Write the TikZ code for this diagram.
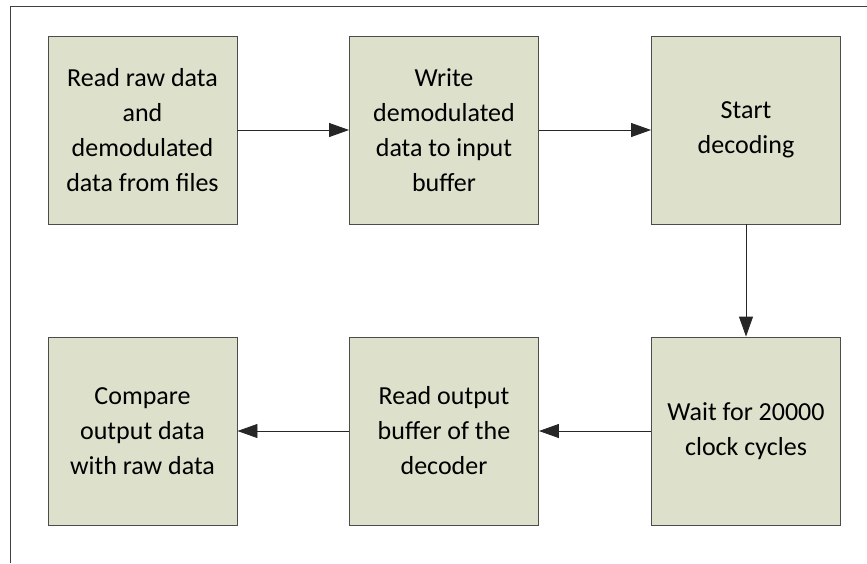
\documentclass[tikz,border=0pt]{standalone}
\usepackage{fontspec}
\setmainfont{Carlito}
\usepackage{tikz}
\usetikzlibrary{arrows.meta,positioning}
\definecolor{boxfill}{HTML}{DDE0CB}

\begin{document}
\begin{tikzpicture}[
  x=1pt, y=1pt,
  every node/.style={align=center},
  stage/.style={draw=black!70, fill=boxfill, line width=0.9pt,
                minimum width=189pt, minimum height=188pt, inner sep=0pt,
                font=\fontsize{26}{35}\selectfont},
  flow/.style={-{Triangle[length=20pt,width=14pt]}, draw=black!85, line width=0.9pt},
  frame/.style={draw=black!75, line width=1pt},
]
\useasboundingbox (0,0) rectangle (867,-563);

\def\TY{-130}   % top row
\def\BY{-431}   % bottom row

% ---- frame ----
\coordinate (fl) at (10.5,-563);
\coordinate (ftl) at (10.5,-6);
\coordinate (fr) at (867,-6);
\draw[frame] (fl) -- (ftl) -- (fr);

% ---- top row ----
\node[stage] (read)  at (142.5,\TY) {Read raw data\\and\\demodulated\\data from files};
\node[stage] (write) at (444,\TY)   {Write\\demodulated\\data to input\\buffer};
\node[stage] (start) at (746,\TY)   {Start\\decoding};

% ---- bottom row ----
\node[stage] (wait)  at (746,\BY)   {Wait for 20000\\clock cycles};
\node[stage] (out)   at (444,\BY)   {Read output\\buffer of the\\decoder};
\node[stage] (cmp)   at (142.5,\BY) {Compare\\output data\\with raw data};

\foreach \a/\b in {read/write, write/start, start/wait, wait/out, out/cmp}
  \draw[flow] (\a) -- (\b);
\end{tikzpicture}
\end{document}
